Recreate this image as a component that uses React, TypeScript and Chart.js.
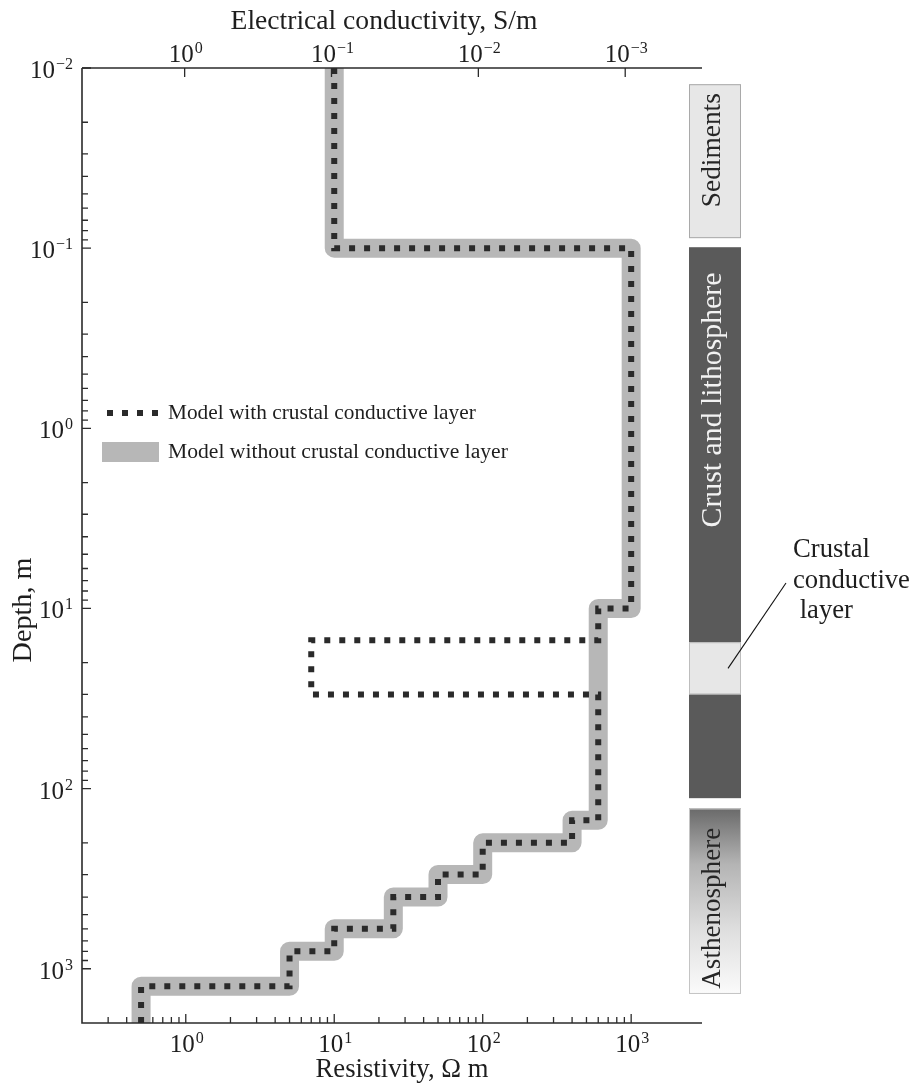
import React, { useEffect, useRef } from 'react';
import { Chart, registerables } from 'chart.js';

Chart.register(...registerables);

const FONT = '"Liberation Serif", "Times New Roman", serif';

// ---- data (layer boundaries in depth, resistivity per layer) ----
const depthBoundsWith = [0.01, 0.1, 10, 15, 30, 150, 200, 300, 400, 600, 800, 1250, 2000];
const resistivityWith = [10, 1000, 600, 7, 600, 400, 100, 50, 25, 10, 5, 0.5];
const depthBoundsWithout = [0.01, 0.1, 10, 150, 200, 300, 400, 600, 800, 1250, 2000];
const resistivityWithout = [10, 1000, 600, 400, 100, 50, 25, 10, 5, 0.5];

// ---- axes ----
const resistivityRange = [0.2, 3000];
const depthRange = [0.01, 2000];
const resistivityMajor = [1, 10, 100, 1000];
const resistivityExp = [0, 1, 2, 3];
const conductivityMajor = [1, 0.1, 0.01, 0.001];
const conductivityExp = [0, -1, -2, -3];
const depthMajor = [0.01, 0.1, 1, 10, 100, 1000];
const depthExp = [-2, -1, 0, 1, 2, 3];
const resistivityMinorDecades = [-1, 0, 1, 2];
const depthMinorDecades = [-2, -1, 0, 1, 2];
const minorMantissas = [2, 3, 4, 5, 6, 7, 8, 9];

const xTitle = 'Resistivity, \u03A9 m';
const x2Title = 'Electrical conductivity, S/m';
const yTitle = 'Depth, m';
const legendLabels = ['Model with crustal conductive layer', 'Model without crustal conductive layer'];

// ---- geological column ----
const columnNames = ['Sediments', 'Crust and lithosphere', 'Asthenosphere'];
const columnTops = [0.0123, 0.0988, 129];
const columnBottoms = [0.088, 113, 1380];
const conductiveLayer = [15.4, 30];
const annotationLines = ['Crustal', 'conductive', ' layer'];

const DOT = '#2a2a2a';
const GRAY = '#b7b7b7';
const AXIS = '#2b2b2b';
const TEXT = '#1e1e1e';

function stepPoints(bounds: number[], values: number[]) {
  const pts: { x: number; y: number }[] = [];
  values.forEach((v, i) => {
    pts.push({ x: v, y: bounds[i] });
    pts.push({ x: v, y: bounds[i + 1] });
  });
  return pts;
}

function fitSize(ctx: CanvasRenderingContext2D, text: string, width: number) {
  ctx.font = `100px ${FONT}`;
  return (100 * width) / ctx.measureText(text).width;
}

function drawPow(ctx: CanvasRenderingContext2D, exp: number, x: number, y: number, align: 'center' | 'right') {
  const base = '10';
  const sup = exp < 0 ? '\u2212' + String(-exp) : String(exp);
  ctx.font = `25px ${FONT}`;
  const wb = ctx.measureText(base).width;
  ctx.font = `16px ${FONT}`;
  const ws = ctx.measureText(sup).width;
  const total = wb + ws + 1;
  const left = align === 'center' ? x - total / 2 : x - total;
  ctx.textAlign = 'left';
  ctx.textBaseline = 'alphabetic';
  ctx.fillStyle = TEXT;
  ctx.font = `25px ${FONT}`;
  ctx.fillText(base, left, y);
  ctx.font = `16px ${FONT}`;
  ctx.fillText(sup, left + wb + 1, y - 9);
}

function rotText(ctx: CanvasRenderingContext2D, text: string, cx: number, cy: number, size: number, color: string) {
  ctx.save();
  ctx.translate(cx, cy);
  ctx.rotate(-Math.PI / 2);
  ctx.font = `${size}px ${FONT}`;
  ctx.textAlign = 'center';
  ctx.textBaseline = 'middle';
  ctx.fillStyle = color;
  ctx.fillText(text, 0, 0);
  ctx.restore();
}

const decorPlugin = {
  id: 'decor',
  afterDraw(chart: any) {
    const ctx: CanvasRenderingContext2D = chart.ctx;
    const { left, right, top, bottom } = chart.chartArea;
    const xs = chart.scales.x;
    const x2 = chart.scales.x2;
    const ys = chart.scales.y;
    ctx.save();

    // axis lines
    ctx.strokeStyle = AXIS;
    ctx.lineWidth = 1.6;
    ctx.beginPath();
    ctx.moveTo(left, top);
    ctx.lineTo(right, top);
    ctx.moveTo(left, top);
    ctx.lineTo(left, bottom);
    ctx.lineTo(right, bottom);
    ctx.stroke();

    // ticks
    ctx.lineWidth = 1.3;
    ctx.beginPath();
    const MAJ = 9;
    const MIN = 6;
    resistivityMajor.forEach((v) => {
      const px = xs.getPixelForValue(v);
      ctx.moveTo(px, bottom);
      ctx.lineTo(px, bottom - MAJ);
    });
    resistivityMinorDecades.forEach((d) =>
      minorMantissas.forEach((m) => {
        const v = m * Math.pow(10, d);
        if (v <= resistivityRange[0] * 1.01 || v >= resistivityRange[1]) return;
        const px = xs.getPixelForValue(v);
        ctx.moveTo(px, bottom);
        ctx.lineTo(px, bottom - MIN);
      })
    );
    conductivityMajor.forEach((v) => {
      const px = x2.getPixelForValue(v);
      ctx.moveTo(px, top);
      ctx.lineTo(px, top + MAJ);
    });
    depthMajor.forEach((v) => {
      const py = ys.getPixelForValue(v);
      ctx.moveTo(left, py);
      ctx.lineTo(left + MAJ, py);
    });
    depthMinorDecades.forEach((d) =>
      minorMantissas.forEach((m) => {
        const v = m * Math.pow(10, d);
        if (v >= depthRange[1]) return;
        const py = ys.getPixelForValue(v);
        ctx.moveTo(left, py);
        ctx.lineTo(left + MIN, py);
      })
    );
    ctx.stroke();

    // tick labels
    resistivityMajor.forEach((v, i) => drawPow(ctx, resistivityExp[i], xs.getPixelForValue(v) + 1, bottom + 29, 'center'));
    conductivityMajor.forEach((v, i) => drawPow(ctx, conductivityExp[i], x2.getPixelForValue(v) + 1, top - 6, 'center'));
    depthMajor.forEach((v, i) => drawPow(ctx, depthExp[i], left - 9, ys.getPixelForValue(v) + 10, 'right'));

    // axis titles
    ctx.fillStyle = TEXT;
    ctx.textBaseline = 'alphabetic';
    ctx.textAlign = 'center';
    ctx.font = `${fitSize(ctx, x2Title, 307)}px ${FONT}`;
    ctx.fillText(x2Title, 384, 29);
    ctx.font = `${fitSize(ctx, xTitle, 173)}px ${FONT}`;
    ctx.fillText(xTitle, 402, 1077);
    rotText(ctx, yTitle, 24, 610, fitSize(ctx, yTitle, 105), TEXT);

    // legend
    ctx.save();
    ctx.strokeStyle = DOT;
    ctx.lineWidth = 6;
    ctx.setLineDash([6, 9]);
    ctx.beginPath();
    ctx.moveTo(107, 413);
    ctx.lineTo(160, 413);
    ctx.stroke();
    ctx.restore();
    ctx.fillStyle = GRAY;
    ctx.fillRect(102, 442, 57, 20);
    ctx.fillStyle = TEXT;
    ctx.textAlign = 'left';
    ctx.font = `${fitSize(ctx, legendLabels[0], 308)}px ${FONT}`;
    ctx.fillText(legendLabels[0], 168, 419);
    ctx.font = `${fitSize(ctx, legendLabels[1], 340)}px ${FONT}`;
    ctx.fillText(legendLabels[1], 168, 458);

    // geological column
    const cx0 = 689;
    const cw = 52;
    const yT = columnTops.map((d) => ys.getPixelForValue(d));
    const yB = columnBottoms.map((d) => ys.getPixelForValue(d));
    // sediments
    ctx.fillStyle = '#e7e7e7';
    ctx.fillRect(cx0, yT[0], cw, yB[0] - yT[0]);
    ctx.strokeStyle = '#a9a9a9';
    ctx.lineWidth = 1;
    ctx.strokeRect(cx0 + 0.5, yT[0] + 0.5, cw - 1, yB[0] - yT[0] - 1);
    // crust
    ctx.fillStyle = '#5a5a5a';
    ctx.fillRect(cx0, yT[1], cw, yB[1] - yT[1]);
    const cT = ys.getPixelForValue(conductiveLayer[0]);
    const cB = ys.getPixelForValue(conductiveLayer[1]);
    ctx.fillStyle = '#e7e7e7';
    ctx.fillRect(cx0, cT, cw, cB - cT);
    ctx.strokeStyle = '#bdbdbd';
    ctx.strokeRect(cx0 + 0.5, cT + 0.5, cw - 1, cB - cT - 1);
    // asthenosphere
    const g = ctx.createLinearGradient(0, yT[2], 0, yB[2]);
    g.addColorStop(0, '#6a6a6a');
    g.addColorStop(0.3, '#b4b4b4');
    g.addColorStop(0.65, '#dedede');
    g.addColorStop(1, '#fbfbfb');
    ctx.fillStyle = g;
    ctx.fillRect(cx0, yT[2], cw, yB[2] - yT[2]);
    ctx.strokeStyle = '#c4c4c4';
    ctx.strokeRect(cx0 + 0.5, yT[2] + 0.5, cw - 1, yB[2] - yT[2] - 1);

    rotText(ctx, columnNames[0], 713, (yT[0] + yB[0]) / 2 - 11, fitSize(ctx, columnNames[0], 114), '#262626');
    rotText(ctx, columnNames[1], 713, 400, fitSize(ctx, columnNames[1], 255), '#f2f2f2');
    rotText(ctx, columnNames[2], 713, (yT[2] + yB[2]) / 2 + 7, fitSize(ctx, columnNames[2], 161), '#262626');

    // annotation
    ctx.strokeStyle = '#111';
    ctx.lineWidth = 1.1;
    ctx.beginPath();
    ctx.moveTo(786, 583);
    ctx.lineTo(728, (cT + cB) / 2);
    ctx.stroke();
    ctx.fillStyle = TEXT;
    ctx.textAlign = 'left';
    ctx.textBaseline = 'alphabetic';
    const aSize = fitSize(ctx, annotationLines[1], 117);
    ctx.font = `${aSize}px ${FONT}`;
    ctx.fillText(annotationLines[0], 793, 557);
    ctx.fillText(annotationLines[1], 793, 588);
    ctx.fillText(annotationLines[2], 793, 618);

    ctx.restore();
  },
};

export default function App() {
  const ref = useRef<HTMLCanvasElement | null>(null);
  useEffect(() => {
    if (!ref.current) return;
    const chart = new Chart(ref.current, {
      type: 'scatter',
      data: {
        datasets: [
          {
            label: legendLabels[0],
            data: stepPoints(depthBoundsWith, resistivityWith),
            showLine: true,
            borderColor: DOT,
            borderWidth: 6,
            borderDash: [6, 9],
            borderCapStyle: 'butt',
            borderJoinStyle: 'miter',
            pointRadius: 0,
            tension: 0,
          },
          {
            label: legendLabels[1],
            data: stepPoints(depthBoundsWithout, resistivityWithout),
            showLine: true,
            borderColor: GRAY,
            borderWidth: 19,
            borderCapStyle: 'butt',
            borderJoinStyle: 'round',
            pointRadius: 0,
            tension: 0,
          },
        ],
      },
      options: {
        responsive: false,
        animation: false,
        devicePixelRatio: 1,
        layout: { padding: { left: 82, right: 212, top: 68, bottom: 62 } },
        plugins: { legend: { display: false }, tooltip: { enabled: false } },
        events: [],
        scales: {
          x: { type: 'logarithmic', min: resistivityRange[0], max: resistivityRange[1], display: false },
          x2: {
            type: 'logarithmic',
            axis: 'x',
            position: 'top',
            min: 1 / resistivityRange[1],
            max: 1 / resistivityRange[0],
            reverse: true,
            display: false,
          },
          y: { type: 'logarithmic', min: depthRange[0], max: depthRange[1], reverse: true, display: false },
        },
      } as any,
      plugins: [decorPlugin],
    });
    return () => chart.destroy();
  }, []);
  return (
    <div style={{ position: 'absolute', left: 0, top: 0, width: 914, height: 1085, background: '#fff' }}>
      <canvas ref={ref} width={914} height={1085} style={{ display: 'block' }} />
    </div>
  );
}
